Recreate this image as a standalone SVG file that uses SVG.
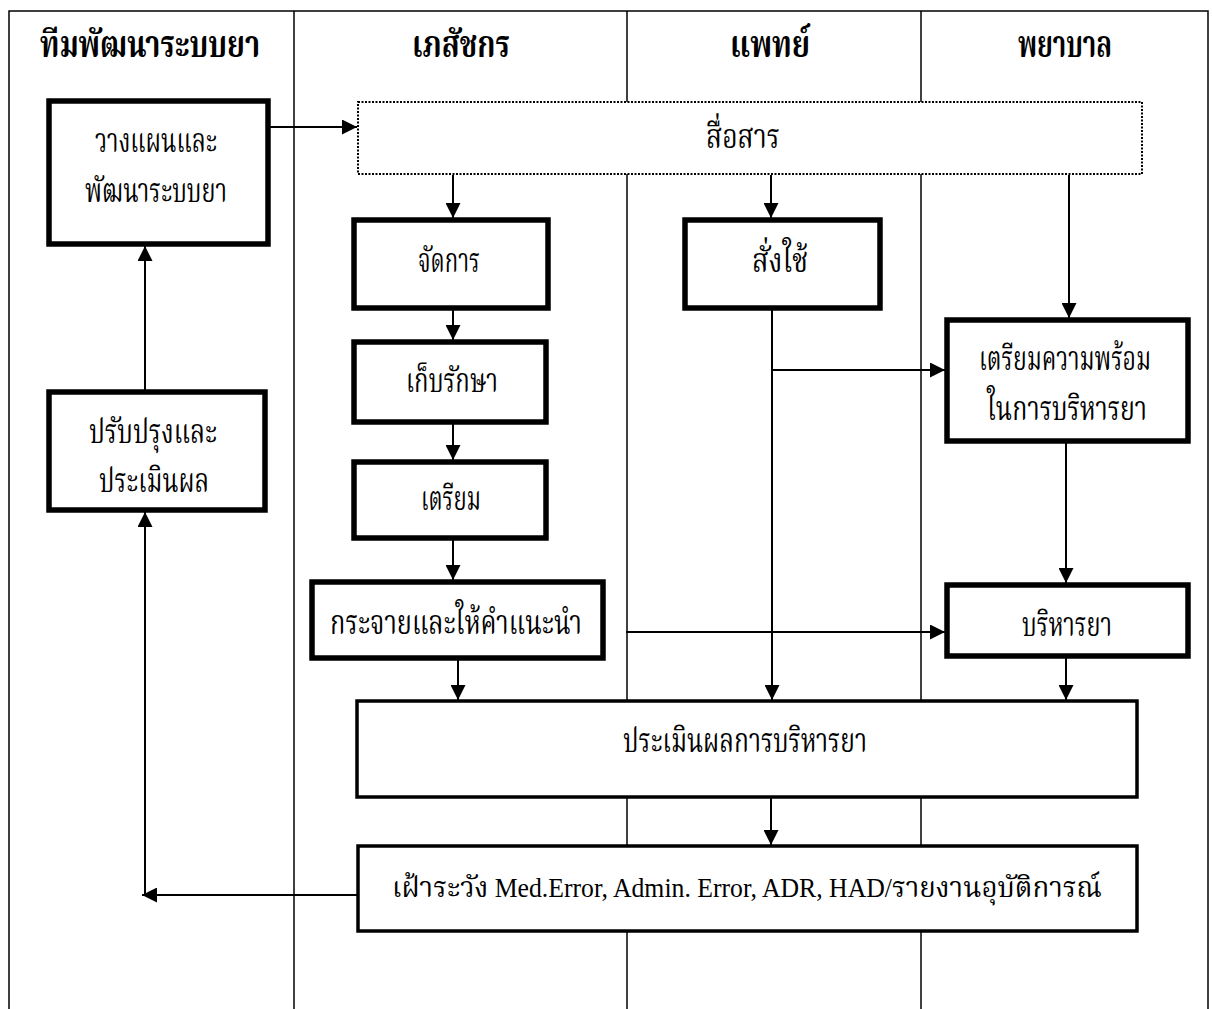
<svg xmlns="http://www.w3.org/2000/svg" width="1212" height="1009" viewBox="0 0 1212 1009">
<defs>
<style>
.lane{stroke:#000;stroke-width:1.5;fill:none}
.box{fill:#fff;stroke:#000;stroke-width:5.5}
.box2{fill:#fff;stroke:#000;stroke-width:3.5}
.dot{fill:#fff;stroke:#000;stroke-width:2;stroke-dasharray:2 1.5}
.hd{font-family:"Liberation Serif","Noto Serif Thai","Noto Sans Thai",serif;font-weight:bold;font-size:37px;text-anchor:middle;fill:#000}
.t{font-family:"Liberation Serif","Noto Serif Thai","Noto Sans Thai",serif;font-size:33px;text-anchor:middle;fill:#000}
.ts{font-family:"Liberation Serif","Noto Serif Thai","Noto Sans Thai",serif;font-size:29px;fill:#000}
.lat{font-size:27px}
.c{stroke:#000;stroke-width:2;fill:none}
</style>
<marker id="ah" viewBox="0 0 10 10" refX="10" refY="5" markerWidth="15" markerHeight="15" markerUnits="userSpaceOnUse" orient="auto">
<path d="M0,0 L10,5 L0,10 z" fill="#000"/>
</marker>
</defs>
<rect width="1212" height="1009" fill="#fff"/>
<g id="lanes">
<path class="lane" d="M9,1009 V11 H1208 V1009"/>
<line class="lane" x1="294" y1="11" x2="294" y2="1009"/>
<line class="lane" x1="627" y1="11" x2="627" y2="1009"/>
<line class="lane" x1="921" y1="11" x2="921" y2="1009"/>
<text class="hd" x="150" y="57" textLength="220" lengthAdjust="spacingAndGlyphs">ทีมพัฒนาระบบยา</text>
<text class="hd" x="461" y="57" textLength="98" lengthAdjust="spacingAndGlyphs">เภสัชกร</text>
<text class="hd" x="770" y="57" textLength="80" lengthAdjust="spacingAndGlyphs">แพทย์</text>
<text class="hd" x="1065" y="57" textLength="94" lengthAdjust="spacingAndGlyphs">พยาบาล</text>
</g>
<g id="connectors">
<line class="c" x1="269" y1="127" x2="357" y2="127" marker-end="url(#ah)"/>
<line class="c" x1="453" y1="175" x2="453" y2="218" marker-end="url(#ah)"/>
<line class="c" x1="771" y1="175" x2="771" y2="218" marker-end="url(#ah)"/>
<line class="c" x1="1069" y1="175" x2="1069" y2="318" marker-end="url(#ah)"/>
<line class="c" x1="453" y1="310" x2="453" y2="340" marker-end="url(#ah)"/>
<line class="c" x1="453" y1="424" x2="453" y2="460" marker-end="url(#ah)"/>
<line class="c" x1="453" y1="540" x2="453" y2="580" marker-end="url(#ah)"/>
<line class="c" x1="458" y1="660" x2="458" y2="700" marker-end="url(#ah)"/>
<line class="c" x1="772" y1="310" x2="772" y2="700" marker-end="url(#ah)"/>
<line class="c" x1="772" y1="370" x2="945" y2="370" marker-end="url(#ah)"/>
<line class="c" x1="1066" y1="442" x2="1066" y2="583" marker-end="url(#ah)"/>
<line class="c" x1="626" y1="632" x2="945" y2="632" marker-end="url(#ah)"/>
<line class="c" x1="1066" y1="658" x2="1066" y2="700" marker-end="url(#ah)"/>
<line class="c" x1="771" y1="798" x2="771" y2="845" marker-end="url(#ah)"/>
<polyline class="c" points="357,895 145,895"/>
<line class="c" x1="160" y1="895" x2="142" y2="895" marker-end="url(#ah)"/>
<line class="c" x1="145" y1="895" x2="145" y2="512" marker-end="url(#ah)"/>
<line class="c" x1="145" y1="390" x2="145" y2="246" marker-end="url(#ah)"/>
</g>
<g id="n-plan">
<rect class="box" x="49" y="101" width="219" height="143"/>
<text class="t" x="156" y="152" textLength="122" lengthAdjust="spacingAndGlyphs">วางแผนและ</text>
<text class="t" x="156" y="202" textLength="142" lengthAdjust="spacingAndGlyphs">พัฒนาระบบยา</text>
</g>
<g id="n-comm">
<rect class="dot" x="358" y="102" width="784" height="72"/>
<text class="t" x="743" y="148" textLength="74" lengthAdjust="spacingAndGlyphs">สื่อสาร</text>
</g>
<g id="n-manage">
<rect class="box" x="354" y="220" width="194" height="88"/>
<text class="t" x="449" y="272" textLength="62" lengthAdjust="spacingAndGlyphs">จัดการ</text>
</g>
<g id="n-store">
<rect class="box" x="354" y="342" width="192" height="80"/>
<text class="t" x="452" y="392" textLength="92" lengthAdjust="spacingAndGlyphs">เก็บรักษา</text>
</g>
<g id="n-prep">
<rect class="box" x="354" y="462" width="192" height="76"/>
<text class="t" x="451" y="510" textLength="60" lengthAdjust="spacingAndGlyphs">เตรียม</text>
</g>
<g id="n-dist">
<rect class="box" x="312" y="582" width="291" height="76"/>
<text class="t" x="456" y="634" textLength="252" lengthAdjust="spacingAndGlyphs">กระจายและให้คำแนะนำ</text>
</g>
<g id="n-order">
<rect class="box" x="685" y="220" width="195" height="88"/>
<text class="t" x="780" y="272" textLength="56" lengthAdjust="spacingAndGlyphs">สั่งใช้</text>
</g>
<g id="n-ready">
<rect class="box" x="947" y="320" width="241" height="121"/>
<text class="t" x="1065" y="370" textLength="172" lengthAdjust="spacingAndGlyphs">เตรียมความพร้อม</text>
<text class="t" x="1067" y="420" textLength="160" lengthAdjust="spacingAndGlyphs">ในการบริหารยา</text>
</g>
<g id="n-admin">
<rect class="box" x="947" y="585" width="241" height="71"/>
<text class="t" x="1067" y="636" textLength="90" lengthAdjust="spacingAndGlyphs">บริหารยา</text>
</g>
<g id="n-eval">
<rect class="box2" x="357" y="701" width="780" height="96"/>
<text class="t" x="745" y="752" textLength="244" lengthAdjust="spacingAndGlyphs">ประเมินผลการบริหารยา</text>
</g>
<g id="n-monitor">
<rect class="box2" x="358" y="846" width="779" height="85"/>
<text class="ts" x="392" y="897" textLength="710" lengthAdjust="spacingAndGlyphs">เฝ้าระวัง<tspan class="lat">  Med.Error, Admin. Error, ADR, HAD/</tspan>รายงานอุบัติการณ์</text>
</g>
<g id="n-improve">
<rect class="box" x="49" y="392" width="216" height="118"/>
<text class="t" x="153" y="443" textLength="128" lengthAdjust="spacingAndGlyphs">ปรับปรุงและ</text>
<text class="t" x="154" y="492" textLength="110" lengthAdjust="spacingAndGlyphs">ประเมินผล</text>
</g>
</svg>
